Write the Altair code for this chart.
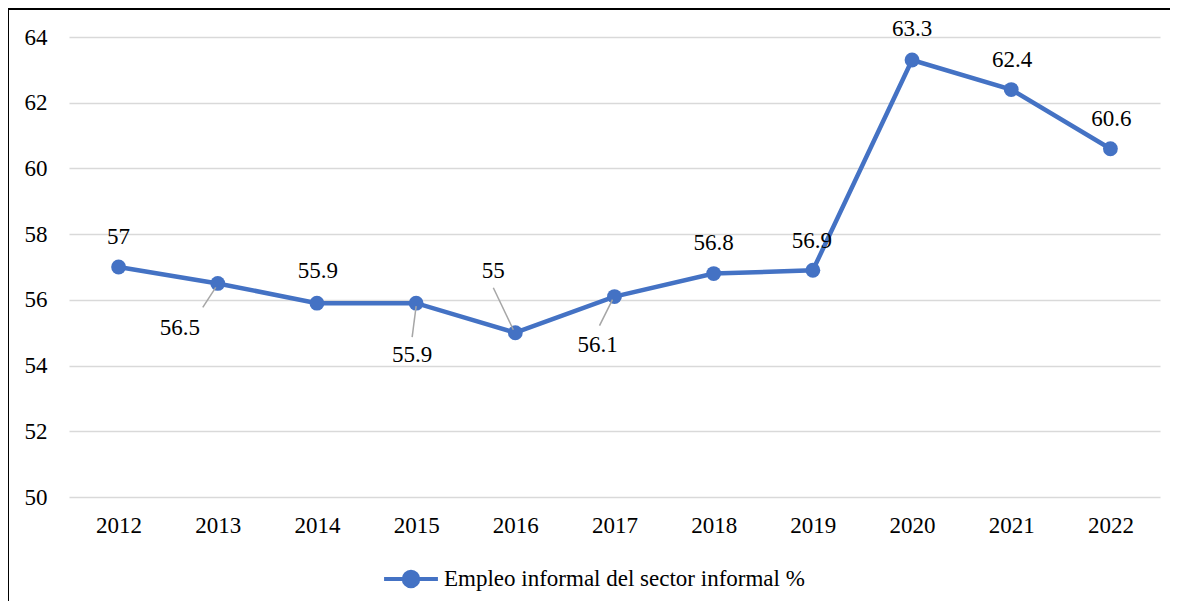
import altair as alt
import pandas as pd

years = ["2012", "2013", "2014", "2015", "2016", "2017", "2018", "2019", "2020", "2021", "2022"]
values = [57, 56.5, 55.9, 55.9, 55, 56.1, 56.8, 56.9, 63.3, 62.4, 60.6]
series_name = "Empleo informal del sector informal %"

# label placement offsets (pixels, relative to the point)
label_dx = [0, -38, 1, -4, -22, -17, 0, -1, 0, 1, 1]
label_dy = [-30, 45, -32, 52, -62, 48, -31, -29, -31, -30, -30]

# leader lines (pixel offsets relative to the point)
leader_years = ["2013", "2015", "2016", "2017"]
leader_values = [56.5, 55.9, 55, 56.1]
leader_x1 = [-15, -4, -22, -15]
leader_y1 = [24, 34, -45, 29]
leader_x2 = [-2, 0, -2, -2]
leader_y2 = [4, 3, -3, 3]

BLUE = "#4472C4"
FONT = "'Liberation Serif', 'Times New Roman', Times, serif"
FS = 23

df = pd.DataFrame({"year": years, "value": values, "series": series_name,
                   "dx": label_dx, "dy": label_dy,
                   "label": [f"{v:g}" for v in values]})
ldf = pd.DataFrame({"year": leader_years, "value": leader_values,
                    "x1o": leader_x1, "y1o": leader_y1,
                    "x2o": leader_x2, "y2o": leader_y2})

x_scale = alt.Scale(type="point", padding=0.5, domain=years)
x_enc = alt.X("year:O", scale=x_scale,
              axis=alt.Axis(title=None, labelAngle=0, domain=False, ticks=False, grid=False,
                            labelPadding=17, labelFont=FONT, labelFontSize=FS,
                            labelColor="#000000"))
y_enc = alt.Y("value:Q", scale=alt.Scale(domain=[50, 64], nice=False, zero=False),
              axis=alt.Axis(title=None, values=[50, 52, 54, 56, 58, 60, 62, 64],
                            domain=False, ticks=False, labelPadding=22,
                            labelFont=FONT, labelFontSize=FS, labelColor="#000000",
                            gridColor="#D9D9D9", gridWidth=1.5))

base = alt.Chart(df)
one = pd.DataFrame({"a": [0]})

frame_top = alt.Chart(one).mark_rule(color="#000000", strokeWidth=2, clip=False).encode(
    x=alt.value(-61), x2=alt.value(1300), y=alt.value(-28))
frame_left = alt.Chart(one).mark_rule(color="#000000", strokeWidth=2, clip=False).encode(
    x=alt.value(-61), y=alt.value(-28), y2=alt.value(800))

leg_path = ("M-1,0L1,0M0.27,0A0.27,0.27,0,1,1,-0.27,0A0.27,0.27,0,1,1,0.27,0Z")

line = base.mark_line(strokeWidth=4.5).encode(
    x=x_enc, y=y_enc,
    color=alt.Color("series:N", scale=alt.Scale(range=[BLUE]),
                    legend=alt.Legend(title=None, orient="none", legendX=313, legendY=513,
                                      symbolType=leg_path, symbolSize=2900,
                                      symbolStrokeWidth=4, symbolFillColor=BLUE,
                                      symbolStrokeColor=BLUE, labelFont=FONT,
                                      labelFontSize=FS, labelColor="#000000",
                                      labelLimit=0, labelOffset=4)))

points = base.mark_point(filled=True, size=220, color=BLUE, opacity=1).encode(x=x_enc, y=y_enc)

leaders = alt.Chart(ldf).mark_rule(
    color="#A6A6A6", strokeWidth=1.5,
    xOffset=alt.ExprRef(expr="datum.x1o"), yOffset=alt.ExprRef(expr="datum.y1o"),
    x2Offset=alt.ExprRef(expr="datum.x2o"), y2Offset=alt.ExprRef(expr="datum.y2o")
).encode(x=alt.X("year:O", scale=x_scale), y="value:Q",
         x2="year:O", y2="value:Q")

labels = base.mark_text(
    font=FONT, fontSize=FS, color="#000000", baseline="middle", align="center",
    dx=alt.ExprRef(expr="datum.dx"), dy=alt.ExprRef(expr="datum.dy")
).encode(x=x_enc, y=y_enc, text="label:N")

chart = alt.layer(frame_top, frame_left, line, points, leaders, labels).properties(
    width=1091, height=460,
    padding={"left": 61, "top": 29, "right": 10, "bottom": 104},
    autosize=alt.AutoSizeParams(type="none"),
    background="white",
).configure_view(stroke=None)

chart.save("out.html", embed_options={"renderer": "svg", "actions": False})
